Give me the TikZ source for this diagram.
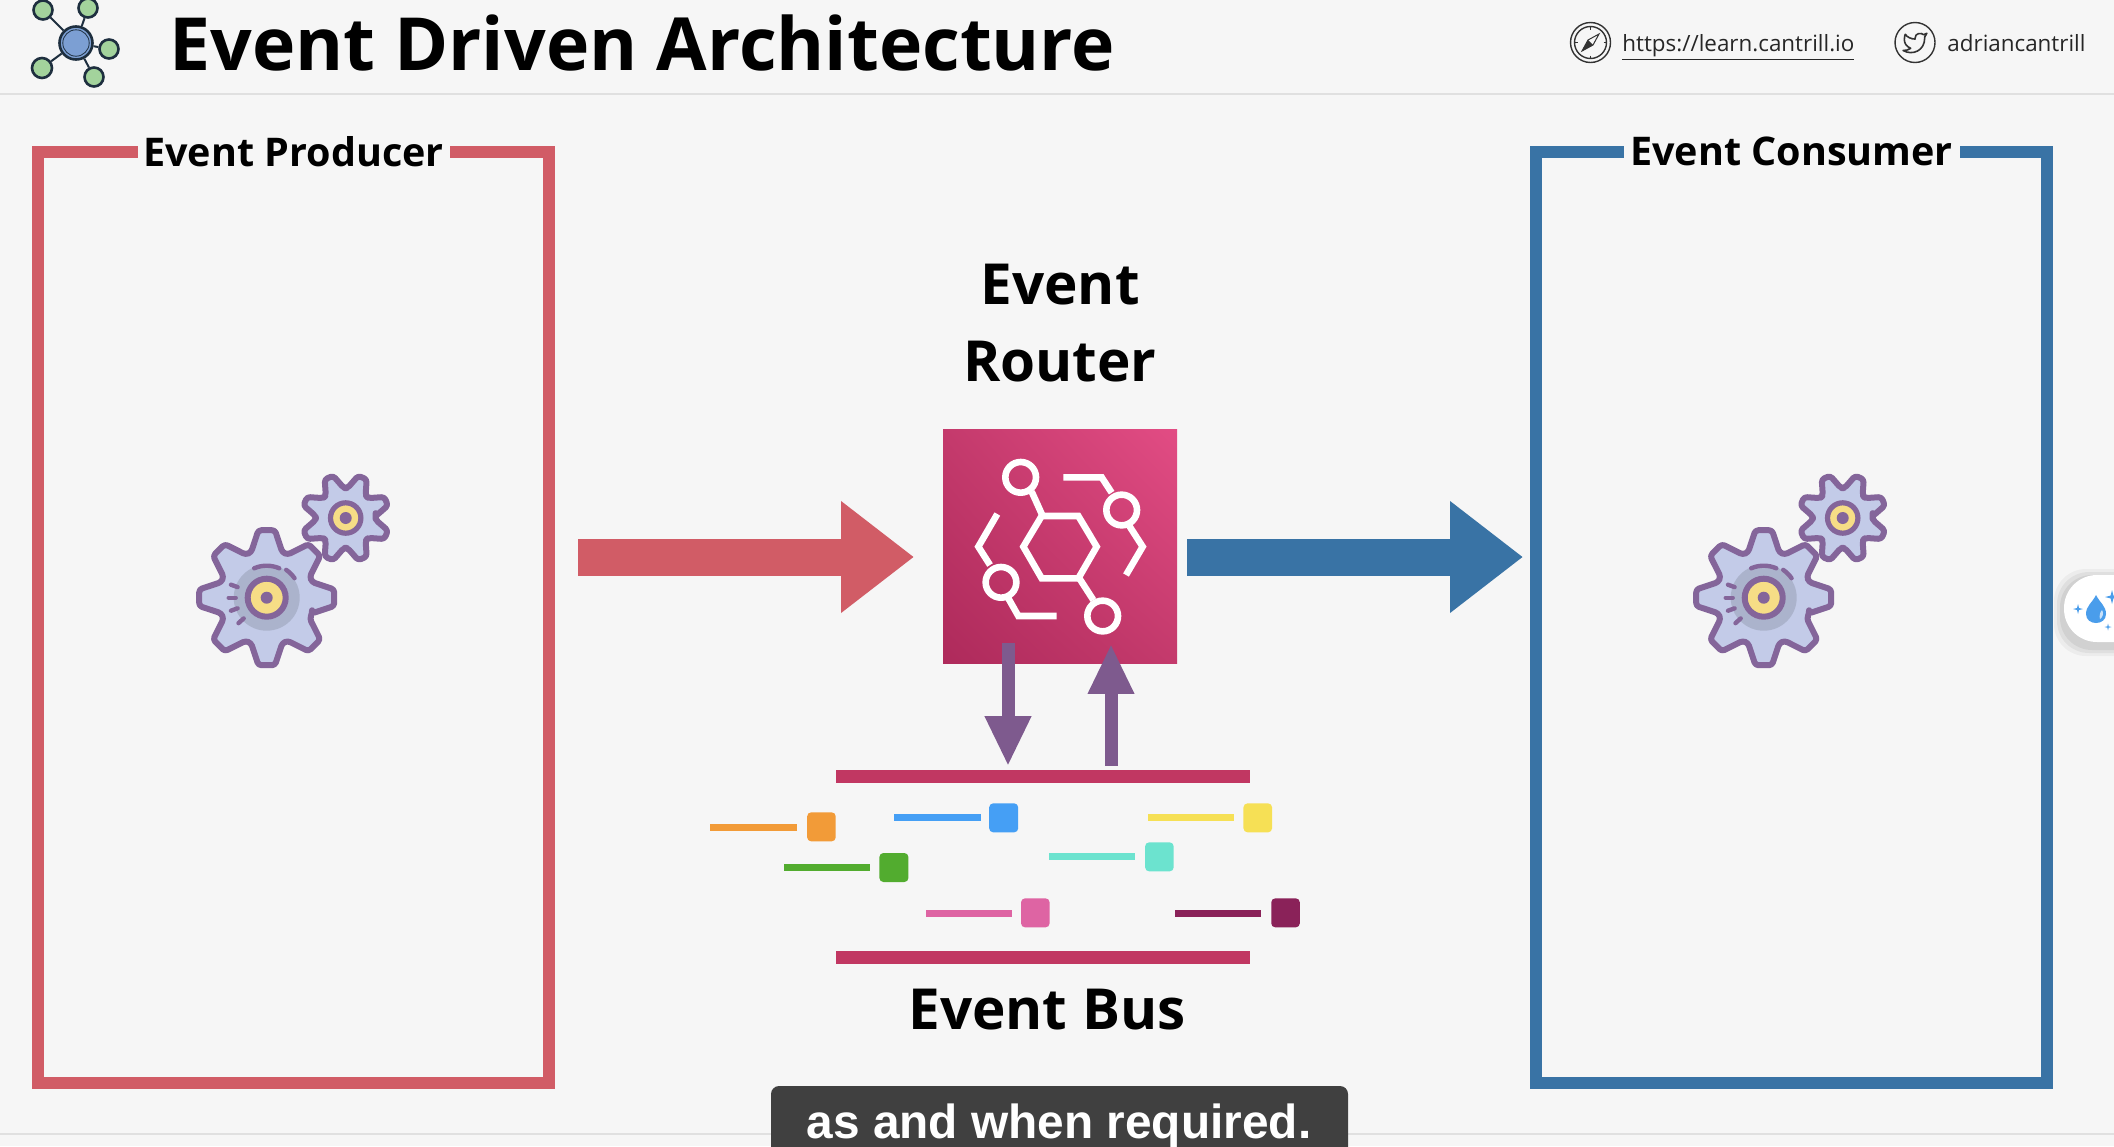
\documentclass[tikz,border=0pt]{standalone}
\usepackage{fontspec}
\setmainfont{Open Sans}
\newfontfamily\capfont{Liberation Sans}
\usetikzlibrary{arrows.meta,shadings}
\definecolor{bgc}{HTML}{F6F6F6}
\definecolor{prodred}{HTML}{D15C66}
\definecolor{consblue}{HTML}{3973A5}
\definecolor{busc}{HTML}{C13762}
\definecolor{purp}{HTML}{7E5A8E}
\definecolor{gearline}{HTML}{84659A}
\definecolor{gearfill}{HTML}{C3CBE8}
\definecolor{gearhub}{HTML}{ABB3CC}
\definecolor{gearyel}{HTML}{F6DD86}
\definecolor{logoblue}{HTML}{7C9FD3}
\definecolor{logogreen}{HTML}{A3D39C}
\definecolor{logoline}{HTML}{1E2F3F}
\definecolor{dropc}{HTML}{4A9DEB}
\definecolor{capc}{HTML}{404040}
\definecolor{rtll}{HTML}{AE2A5B}
\definecolor{rtmid}{HTML}{C43A6C}
\definecolor{rtur}{HTML}{E24C84}
\definecolor{evorange}{HTML}{F29B38}
\definecolor{evblue}{HTML}{459FF5}
\definecolor{evyellow}{HTML}{F6E055}
\definecolor{evgreen}{HTML}{52AC2F}
\definecolor{evteal}{HTML}{6CE3CF}
\definecolor{evpink}{HTML}{DE64A3}
\definecolor{evdark}{HTML}{8A2259}
\tikzset{
  framebox/.style={draw,line width=6pt,minimum width=255.5pt,minimum height=465.5pt,inner sep=0pt},
  framelabel/.style={fill=bgc,font=\bfseries\fontsize{19.75}{24}\selectfont,inner sep=0pt,text depth=3pt,minimum height=20pt,text=black},
  biglabel/.style={font=\bfseries\fontsize{28.3}{33}\selectfont,anchor=base,inner sep=0pt,text=black},
  blockarrow/.style={line width=18.5pt,-{Triangle[length=36.5pt,width=53.5pt]}},
  smallarrow/.style={draw=purp,line width=6.5pt,-{Triangle[length=25pt,width=21.5pt]},color=purp},
  busbar/.style={fill=busc,draw=none},
  iconline/.style={draw=white,line width=3.3pt,line join=miter},
  evsquare/.style={rounded corners=2pt},
  logosat/.style={draw=logoline,line width=1.3pt,fill=logogreen,circle,inner sep=0pt},
  headtext/.style={font=\fontsize{11.2}{14}\selectfont,anchor=base west,inner sep=0pt,text=black!85},
  iconring/.style={draw=black!80,line width=.7pt},
}
\newcommand{\cogshape}[4]{% rout rin phase tip half-angle
  \draw[draw=gearline,line width=3pt,fill=gearfill,rounded corners=1.5pt,line join=round]
    ({#3-19}:#2pt) \foreach \t in {0,45,...,315} {
      -- ({\t+#3-19}:#2pt) -- ({\t+#3-#4}:#1pt) -- ({\t+#3+#4}:#1pt) -- ({\t+#3+19}:#2pt)
    } -- cycle;
}
\newcommand{\cogarc}[3]{% start end radius
  \draw[draw=gearline,line width=2.2pt,line cap=round] (#1:#3pt) arc[start angle=#1,end angle=#2,radius=#3pt];
}
\newcommand{\cogdash}[1]{%
  \draw[draw=gearline,line width=2.2pt,line cap=round] (#1:15.5pt) -- (#1:19pt);
}
\newcommand{\bigcog}[2]{%
  \begin{scope}[shift={(#1,#2)}]
    \cogshape{34}{24}{0}{7}
    \fill[gearhub] (0,0) circle (16.5pt);
    \draw[draw=gearline,line width=3pt,fill=gearyel] (0,0) circle (9.5pt);
    \fill[gearline] (0,0) circle (3pt);
    \cogarc{113}{67}{16}
    \cogarc{55}{35}{17}
    \cogdash{160}
    \cogdash{180}
    \cogdash{200}
    \cogdash{222}
  \end{scope}
}
\newcommand{\smallcog}[2]{%
  \begin{scope}[shift={(#1,#2)}]
    \cogshape{22}{15}{22.5}{6}
    \draw[draw=gearline,line width=2.6pt,fill=gearyel] (0,0) circle (7.6pt);
    \fill[gearline] (0,0) circle (3pt);
  \end{scope}
}
\newcommand{\evt}[7]{% colour lx1 lx2 ly sx1 sx2 sy1
  \fill[#1] (#2,#4-10.5) rectangle (#3,#4+10.5);
  \fill[#1,evsquare] (#5,#7) rectangle (#6,#7+87);
}
\newcommand{\sparkle}[3]{%
  \fill[dropc] (#1-#3,#2) -- (#1-.2*#3,#2-.2*#3) -- (#1,#2-#3) -- (#1+.2*#3,#2-.2*#3) -- (#1+#3,#2) -- (#1+.2*#3,#2+.2*#3) -- (#1,#2+#3) -- (#1-.2*#3,#2+.2*#3) -- cycle;
}
\begin{document}
\begin{tikzpicture}[x=0.5pt,y=-0.5pt]
\clip (0,0) rectangle (2114,1146);
\fill[bgc] (0,0) rectangle (2114,1146);
% rules
\draw[black!12,line width=.7pt] (0,94) -- (2114,94);
\draw[black!12,line width=.7pt] (0,1134) -- (2114,1134);
% logo
\node[draw=logoline,line width=1.3pt,fill=logoblue,circle,minimum size=16.5pt,inner sep=0pt] (hub) at (76,43) {};
\node[logosat,minimum size=9.5pt] (s1) at (43,10) {};
\node[logosat,minimum size=9.5pt] (s2) at (88,8) {};
\node[logosat,minimum size=9.5pt] (s3) at (109,49) {};
\node[logosat,minimum size=10pt] (s4) at (42,68) {};
\node[logosat,minimum size=9.5pt] (s5) at (94,77) {};
\foreach \s in {s1,s2,s3,s4,s5} \draw[logoline,line width=1pt] (hub) -- (\s);
\draw[logoline,line width=.4pt] (76,43) circle (6.6pt);
% title
\node[anchor=base west,inner sep=0pt,font=\bfseries\fontsize{36.65}{44}\selectfont] (title) at (169,70) {Event Driven Architecture};
% header links
\draw[iconring] (1590.5,42.5) circle (10pt);
\draw[iconring] (1590.5,42.5) circle (8pt);
\draw[black!80,line width=.5pt] (1599,34) -- (1593,45) -- (1582,51) -- (1588,40) -- cycle;
\fill[black!80] (1588,40) -- (1582,51) -- (1593,45) -- cycle;
\foreach \a in {0,90,180,270} \draw[black!80,line width=.5pt] (1590.5,42.5) ++(\a:6.5pt) -- ++(\a:1.3pt);
\node[headtext] (site) at (1622,51) {\underline{https://learn.cantrill.io}};
\draw[iconring] (1915,42.5) circle (10pt);
\begin{scope}[shift={(1902,30)},x=0.54pt,y=-0.54pt]
\draw[black!80,line width=.8pt,line join=round] (23,3) .. controls (22,3.8) and (21,4.2) .. (20,4.37)
 .. controls (18,2.2) and (12,2.8) .. (12.14,7.37) -- (12.14,8.37)
 .. controls (8.5,8.4) and (5,6.8) .. (3,4)
 .. controls (3,4) and (-1,13) .. (8,17)
 .. controls (6,18.4) and (3.5,19.1) .. (1,19)
 .. controls (10,24) and (21,19) .. (21,7.5) -- (20.92,6.67)
 .. controls (22,5.6) and (22.7,4.3) .. (23,3) -- cycle;
\end{scope}
\node[headtext] (handle) at (1947,51) {adriancantrill};
% frames
\node[framebox,draw=prodred] (producer) at (293.5,617.5) {};
\node[framebox,draw=consblue] (consumer) at (1791.5,617.5) {};
\node[framelabel,minimum width=156pt] (plabel) at (293.5,154) {Event Producer};
\node[framelabel,minimum width=168pt] (clabel) at (1791.5,154) {Event Consumer};
% gears
\bigcog{266.7}{597.7}
\smallcog{345.7}{518}
\bigcog{1763.7}{597.7}
\smallcog{1842.7}{518}
% router
\node[minimum size=117pt,inner sep=0pt,outer sep=0pt,shade,lower left=rtll,lower right=rtmid,upper left=rtmid,upper right=rtur] (router) at (1060,546.5) {};
\begin{scope}[shift={(920,420)},x=0.16667pt,y=-0.16667pt]
\draw[iconline] (310,380) -- (365,288) -- (475,288) -- (530,380) -- (475,475) -- (365,475) -- cycle;
\draw[iconline] (302,172) circle (7.67pt);
\draw[iconline] (335,215) -- (368,288);
\draw[iconline] (430,172) -- (545,172) -- (575,218);
\draw[iconline] (605,270) circle (7.67pt);
\draw[iconline] (628,318) -- (668,380) -- (618,465);
\draw[iconline] (232,282) -- (175,380) -- (210,435);
\draw[iconline] (243,487) circle (7.67pt);
\draw[iconline] (265,535) -- (295,588) -- (410,588);
\draw[iconline] (478,475) -- (520,540);
\draw[iconline] (548,588) circle (7.67pt);
\end{scope}
\node[biglabel] (routerA) at (1060,304.5) {Event};
\node[biglabel] (routerB) at (1060,381.5) {Router};
% block arrows
\coordinate (ay) at (0,557);
\draw[blockarrow,draw=prodred,color=prodred,shorten <=11.5pt,shorten >=14.5pt] (producer.east |- ay) -- (router.west |- ay);
\draw[blockarrow,draw=consblue,color=consblue,shorten <=5pt,shorten >=3.5pt] (router.east |- ay) -- (consumer.west |- ay);
% bus
\node[busbar,minimum width=207pt,minimum height=6.5pt,inner sep=0pt] (busA) at (1042.5,776.5) {};
\node[busbar,minimum width=207pt,minimum height=6.5pt,inner sep=0pt] (busB) at (1042.5,957.5) {};
\coordinate (dx) at (1008,0);
\coordinate (ux) at (1111,0);
\draw[smallarrow,shorten <=-10.5pt,shorten >=1.7pt] (router.south -| dx) -- (busA.north -| dx);
\draw[smallarrow,shorten <=2pt,shorten >=-9.8pt] (busA.north -| ux) -- (router.south -| ux);
% events
\begin{scope}[shift={(690,760)},x=0.20408pt,y=-0.16667pt]
\evt{evorange}{50}{263}{201}{287}{357}{157}
\evt{evblue}{500}{712}{173}{733}{804}{130}
\evt{evyellow}{1121}{1333}{173}{1356}{1426}{130}
\evt{evgreen}{230}{442}{321}{464}{535}{279}
\evt{evteal}{879}{1091}{289}{1115}{1185}{247}
\evt{evpink}{577}{788}{460}{811}{881}{415}
\evt{evdark}{1189}{1400}{460}{1424}{1494}{415}
\end{scope}
\node[biglabel] (buslabel) at (1047,1029) {Event Bus};
% caption
\fill[capc,rounded corners=4pt] (771,1086) rectangle (1348,1170);
\node[anchor=base,inner sep=0pt,text=white,font=\capfont\bfseries\fontsize{23.9}{29}\selectfont] (caption) at (1059,1138.5) {as and when required.};
% side widget
\foreach \o/\g in {10/.04,7/.05,4/.06}
  \fill[black,opacity=\g,rounded corners=16pt] (2064-\o,575-\o+4) rectangle (2170,642+\o+4);
\fill[white,rounded corners=16.5pt] (2064,575) rectangle (2170,642);
\fill[dropc] (2096,595) .. controls (2092,603) and (2086,606) .. (2086,614) .. controls (2086,620) and (2091,623) .. (2096,623) .. controls (2101,623) and (2106,620) .. (2106,614) .. controls (2106,606) and (2100,603) .. (2096,595) -- cycle;
\fill[white,opacity=.7] (2102,610) .. controls (2104,613) and (2103,617) .. (2100,619) .. controls (2099,616) and (2100,612) .. (2102,610) -- cycle;
\sparkle{2078}{609}{5}
\sparkle{2112}{597}{7}
\sparkle{2108}{627}{3.5}
\end{tikzpicture}
\end{document}
